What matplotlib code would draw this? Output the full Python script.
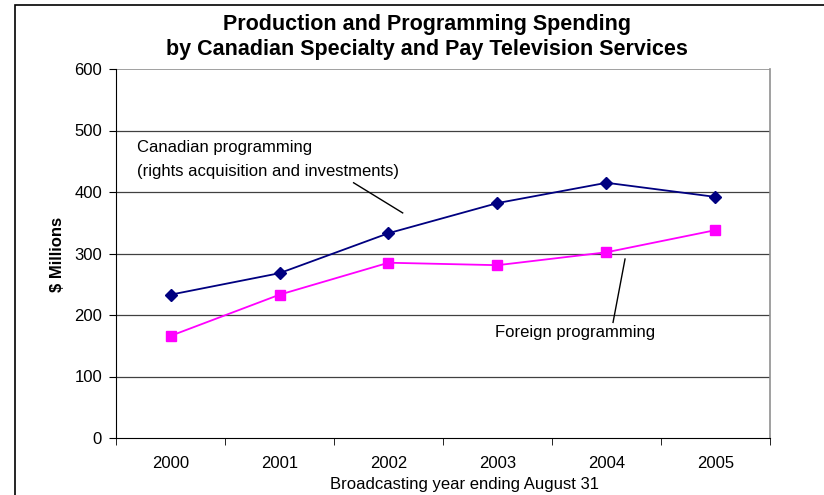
import numpy as np
import matplotlib
matplotlib.use("Agg")
import matplotlib.pyplot as plt
from matplotlib.patches import Rectangle

plt.rcParams['font.family'] = ['Liberation Sans', 'DejaVu Sans']

years = ['2000', '2001', '2002', '2003', '2004', '2005']
canadian = [233, 268, 333, 382, 415, 392]
foreign = [166, 233, 285, 281, 302, 338]
y_ticks = [0, 100, 200, 300, 400, 500, 600]

W, H = 824, 495
fig = plt.figure(figsize=(W / 100, H / 100), dpi=100)

# outer chart frame (extends off the right/bottom edge)
fig.patches.append(Rectangle((15 / W, -0.05), 1.0, (H - 5) / H + 0.05,
                             transform=fig.transFigure, fill=False,
                             edgecolor='black', linewidth=1.2))

ax = fig.add_axes([116 / W, (H - 438) / H, 654 / W, 369 / H])
x = np.arange(len(years))

ax.plot(x, canadian, color='#000080', marker='D', markersize=6.5, linewidth=1.3)
ax.plot(x, foreign, color='#FF00FF', marker='s', markersize=6.5, linewidth=1.3)

ax.set_xlim(-0.5, len(years) - 0.5)
ax.set_ylim(0, 600)
ax.set_yticks(y_ticks)
ax.set_xticks(x)
ax.set_xticklabels(years)
ax.set_xticks(np.arange(-0.5, len(years)), minor=True)
ax.tick_params(axis='x', which='major', length=0, pad=13, labelsize=12)
ax.tick_params(axis='x', which='minor', length=5, direction='out')
ax.tick_params(axis='y', length=5, direction='out', labelsize=12, pad=5)

for v in y_ticks[1:-1]:
    ax.axhline(v, color='#404040', linewidth=0.9, zorder=0)
ax.axhline(600, color='#909090', linewidth=1.2, zorder=0)

ax.spines['top'].set_visible(False)
ax.spines['right'].set_color('#909090')
ax.spines['right'].set_linewidth(1.2)

fig.text(57 / W, 1 - 254 / H, '$ Millions', rotation=90, fontsize=12,
         fontweight='bold', ha='center', va='center')
fig.text(464 / W, 1 - 484 / H, 'Broadcasting year ending August 31',
         fontsize=12, ha='center', va='center')

fig.text(427 / W, 1 - 37 / H,
         'Production and Programming Spending\nby Canadian Specialty and Pay Television Services',
         ha='center', va='center', fontsize=15.5, fontweight='bold', linespacing=1.25)

ax.text(-0.31, 484, 'Canadian programming\n(rights acquisition and investments)',
        fontsize=12, va='top', ha='left', linespacing=1.75)
ax.plot([1.68, 2.13], [415, 366], color='black', linewidth=1)

ax.text(2.98, 171, 'Foreign programming', fontsize=12, va='center', ha='left')
ax.plot([4.17, 4.06], [291, 188], color='black', linewidth=1)

fig.savefig('out.png', dpi=100)
